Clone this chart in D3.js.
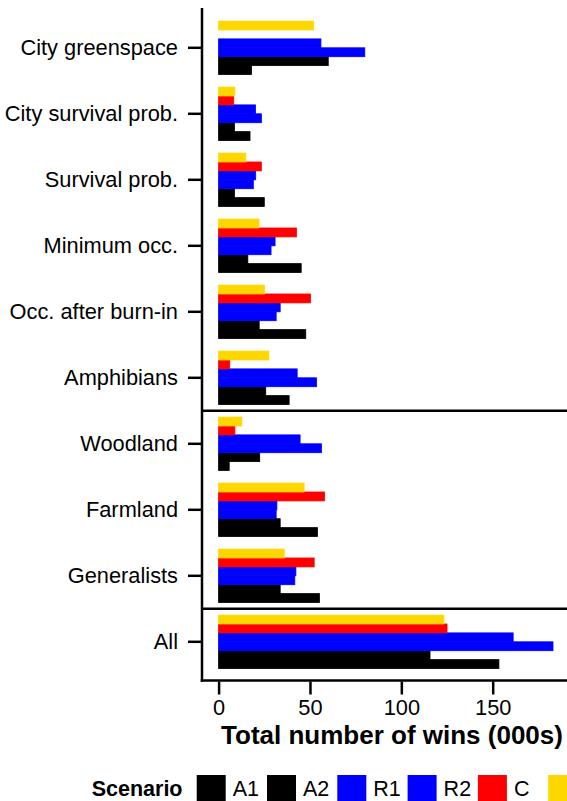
<!DOCTYPE html>
<html>
<head>
<meta charset="utf-8">
<script src="https://cdn.jsdelivr.net/npm/d3@7"></script>
<style>
  body { margin: 0; background: #fff; }
  svg { display: block; font-family: "Liberation Sans", Arial, sans-serif; }
</style>
</head>
<body>
<div class="viz"></div>
<script>
// categories, top to bottom
var categories = ["City greenspace", "City survival prob.", "Survival prob.", "Minimum occ.",
    "Occ. after burn-in", "Amphibians", "Woodland", "Farmland", "Generalists", "All"];
// panel breaks come after these categories
var panelEnds = ["Amphibians", "Generalists"];

var scenarios = ["A1", "A2", "R1", "R2", "C", "Other"];
var scenarioLabels = ["A1", "A2", "R1", "R2", "C"];
var scenarioColors = ["#000000", "#000000", "#0000ff", "#0000ff", "#ff0000", "#ffd700"];

// total number of wins (000s), one value per category
var winsA1 = [18, 17.2, 25, 45.2, 47.7, 38.6, 5.8, 54.1, 55.2, 153.4];
var winsA2 = [60, 8.7, 8.7, 16, 22.2, 25.8, 22.5, 33.7, 33.7, 115.7];
var winsR1 = [80, 23.4, 19, 28.7, 31.5, 53.6, 56.3, 31.5, 41.7, 183];
var winsR2 = [56, 20.2, 20.3, 30.9, 33.7, 43, 44.6, 31.9, 42.3, 161.2];
var winsC = [0, 8.3, 23.4, 42.6, 50.3, 6.1, 8.9, 58, 52.3, 125];
var winsOther = [52, 8.9, 14.9, 22.1, 25.1, 27.5, 12.7, 46.8, 35.9, 123.3];

var xTicks = [0, 50, 100, 150];
var xTitle = "Total number of wins (000s)";
var legendTitle = "Scenario";

var seriesValues = [winsA1, winsA2, winsR1, winsR2, winsC, winsOther];

var width = 567,
    height = 801,
    axisX = 202,
    bottomLine = 680.5;

var svg = d3.select(".viz").append("svg")
    .attr("width", width)
    .attr("height", height);

var x = d3.scaleLinear()
    .domain([0, 150])
    .range([218.6, 492.7]);

var y = d3.scaleBand()
    .domain(categories)
    .range([14.8, 674.8])
    .paddingInner(0.19)
    .paddingOuter(0.095);

// first scenario sits at the bottom of each group
var yInner = d3.scaleBand()
    .domain(scenarios.slice().reverse())
    .range([0, y.bandwidth()]);

var color = d3.scaleOrdinal()
    .domain(scenarios)
    .range(scenarioColors);

var rows = [];
categories.forEach(function (cat, i) {
    scenarios.forEach(function (s, j) {
        rows.push({cat: cat, scenario: s, value: seriesValues[j][i]});
    });
});

// thin same-colour stroke closes the seams between stacked bars
svg.append("g").selectAll("rect")
    .data(rows.filter(function (d) { return d.value > 0; }))
    .enter().append("rect")
    .attr("x", x(0))
    .attr("y", function (d) { return y(d.cat) + yInner(d.scenario); })
    .attr("width", function (d) { return x(d.value) - x(0); })
    .attr("height", yInner.bandwidth())
    .attr("fill", function (d) { return color(d.scenario); })
    .attr("stroke", function (d) { return color(d.scenario); })
    .attr("stroke-width", 0.8);

// panel frame: left axis line, separators, bottom line
var frame = svg.append("g")
    .attr("stroke", "#000")
    .attr("stroke-width", 2.5)
    .attr("fill", "none");

frame.append("line")
    .attr("x1", axisX).attr("x2", axisX)
    .attr("y1", 8).attr("y2", bottomLine + 1.25);

var gap = (y.step() - y.bandwidth()) / 2;
frame.selectAll(".sep")
    .data(panelEnds)
    .enter().append("line")
    .attr("x1", axisX).attr("x2", width)
    .attr("y1", function (d) { return y(d) + y.bandwidth() + gap; })
    .attr("y2", function (d) { return y(d) + y.bandwidth() + gap; });

frame.append("line")
    .attr("x1", axisX - 1.25).attr("x2", width)
    .attr("y1", bottomLine).attr("y2", bottomLine);

// y axis
var yAxis = svg.append("g")
    .attr("transform", "translate(" + (axisX - 1) + ",0)")
    .call(d3.axisLeft(y).tickSize(13).tickPadding(10));
yAxis.select(".domain").remove();
yAxis.selectAll("line").attr("stroke-width", 2.5);
yAxis.selectAll("text")
    .attr("font-size", 21.8)
    .attr("fill", "#000")
    .attr("font-family", null);

// x axis
var xAxis = svg.append("g")
    .attr("transform", "translate(0," + (bottomLine + 1) + ")")
    .call(d3.axisBottom(x).tickValues(xTicks).tickSize(13).tickPadding(5));
xAxis.select(".domain").remove();
xAxis.selectAll("line").attr("stroke-width", 2.5);
xAxis.selectAll("text")
    .attr("font-size", 21.8)
    .attr("fill", "#000")
    .attr("font-family", null);

svg.append("text")
    .attr("x", 392)
    .attr("y", 744)
    .attr("text-anchor", "middle")
    .attr("font-size", 26)
    .attr("font-weight", "bold")
    .text(xTitle);

// legend
var legend = svg.append("g");
legend.append("text")
    .attr("x", 91.7)
    .attr("y", 796)
    .attr("font-size", 21.5)
    .attr("font-weight", "bold")
    .text(legendTitle);

var items = legend.selectAll(".item")
    .data(scenarios)
    .enter().append("g")
    .attr("transform", function (d, i) { return "translate(" + (196.7 + i * 70.3) + ",775)"; });

items.append("rect")
    .attr("width", 29)
    .attr("height", 29)
    .attr("fill", function (d) { return color(d); });

items.filter(function (d, i) { return i < scenarioLabels.length; })
    .append("text")
    .attr("x", 36)
    .attr("y", 21)
    .attr("font-size", 21.5)
    .text(function (d, i) { return scenarioLabels[i]; });
</script>
</body>
</html>
